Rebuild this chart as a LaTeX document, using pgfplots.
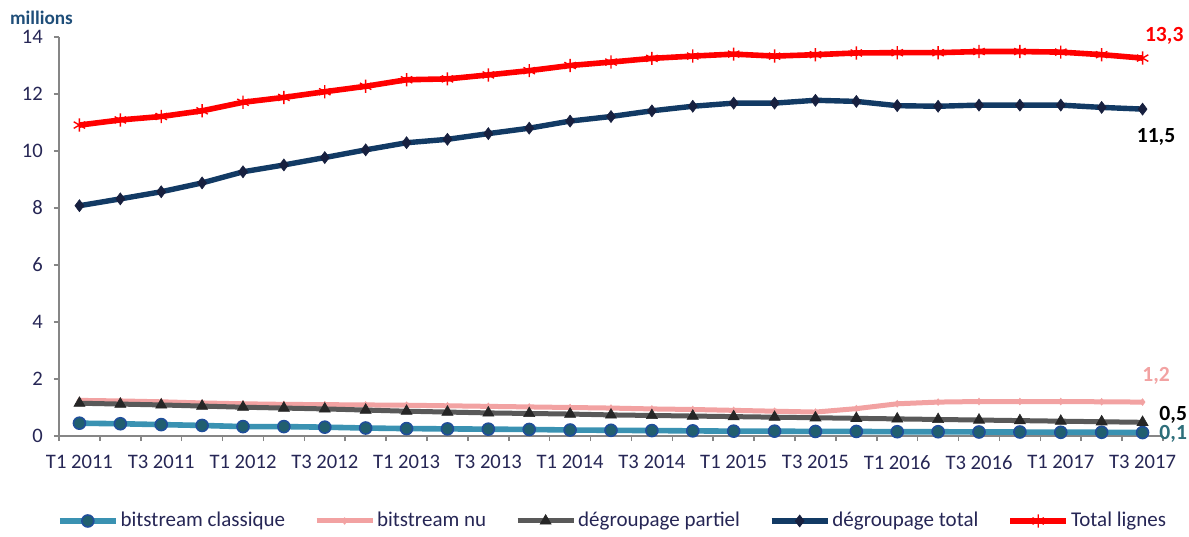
\documentclass[border=0pt]{standalone}
\usepackage{pgfplots}
\usepackage{pgfplotstable}
\pgfplotsset{compat=1.18}
\usepackage{fontspec}
\setmainfont{Carlito}
\definecolor{axisgray}{HTML}{868686}
\definecolor{ticknavy}{HTML}{262655}
\definecolor{millblue}{HTML}{1F4E79}
\definecolor{cRed}{HTML}{FF0000}
\definecolor{cNavy}{HTML}{123A64}
\definecolor{cNavyMk}{HTML}{17203F}
\definecolor{cPink}{HTML}{F2A2A2}
\definecolor{cGray}{HTML}{595959}
\definecolor{cGrayMk}{HTML}{262626}
\definecolor{cTeal}{HTML}{3A92B2}
\definecolor{cTealMk}{HTML}{215F6F}
\definecolor{cTealEdge}{HTML}{1F4E9A}
\definecolor{cTealLbl}{HTML}{2E6E7A}

\pgfplotstableread{
idx cls nu part tot all
0  0.45 1.25 1.15 8.08  10.91
1  0.43 1.23 1.12 8.32  11.09
2  0.40 1.20 1.09 8.57  11.21
3  0.37 1.16 1.05 8.88  11.41
4  0.33 1.13 1.01 9.27  11.71
5  0.33 1.11 0.98 9.51  11.88
6  0.31 1.10 0.95 9.77  12.08
7  0.28 1.09 0.91 10.04 12.27
8  0.26 1.08 0.87 10.29 12.50
9  0.25 1.06 0.84 10.41 12.53
10 0.24 1.04 0.81 10.61 12.67
11 0.23 1.02 0.79 10.80 12.82
12 0.21 1.00 0.77 11.05 13.00
13 0.20 0.98 0.74 11.21 13.12
14 0.19 0.95 0.72 11.41 13.25
15 0.18 0.93 0.70 11.57 13.33
16 0.17 0.90 0.68 11.68 13.40
17 0.17 0.87 0.66 11.68 13.33
18 0.16 0.84 0.64 11.78 13.38
19 0.16 0.96 0.62 11.74 13.44
20 0.15 1.13 0.60 11.59 13.45
21 0.15 1.19 0.58 11.57 13.45
22 0.14 1.21 0.56 11.61 13.49
23 0.14 1.21 0.54 11.61 13.49
24 0.13 1.21 0.52 11.61 13.47
25 0.13 1.20 0.50 11.53 13.38
26 0.12 1.19 0.48 11.47 13.26
}\datatable

\begin{document}
\begin{tikzpicture}
\useasboundingbox (-29.5pt,-50pt) rectangle (565pt,218pt);
\begin{axis}[
  scale only axis, width=552pt, height=199.5pt,
  at={(0,0)}, anchor=south west,
  xmin=-0.5, xmax=26.5, ymin=0, ymax=14,
  clip=false,
  axis x line=bottom, axis y line=left,
  axis line style={-, draw=axisgray, line width=0.8pt},
  xtick={0,2,...,26},
  xticklabels={T1 2011,T3 2011,T1 2012,T3 2012,T1 2013,T3 2013,T1 2014,T3 2014,T1 2015,T3 2015,T1 2016,T3 2016,T1 2017,T3 2017},
  minor xtick={-0.5,0.5,...,26.5},
  major x tick style={draw=none},
  ytick={0,2,...,14},
  tick align=outside,
  tick style={draw=axisgray, line width=0.8pt},
  major tick length=2.6pt, minor tick length=2.6pt,
  /pgf/number format/assume math mode=true,
  ticklabel style={font=\fontsize{10.3}{12}\selectfont, text=ticknavy},
  xticklabel style={yshift=-3.5pt},
  yticklabel style={xshift=-2pt},
  legend columns=5,
  legend style={at={(0.5014,-0.213)}, anchor=center, draw=none, fill=none,
    font=\fontsize{10.5}{12}\selectfont, text=ticknavy,
    inner sep=0pt,
    nodes={inner xsep=1pt},
    /tikz/every even column/.append style={column sep=13.5pt}},
  legend image code/.code={\draw[mark repeat=2,mark phase=2,#1] plot coordinates {(0pt,0pt) (14pt,0pt) (28pt,0pt)};},
]
\addplot[cTeal, line width=2.8pt, mark=*, mark size=3pt,
  mark options={fill=cTealMk, draw=cTealEdge, line width=0.8pt}]
  table[x=idx, y=cls] {\datatable};
\addlegendentry{bitstream classique}
\addplot[cPink, line width=2.5pt, mark=diamond*, mark size=1.6pt,
  mark options={fill=cPink, draw=cPink, line width=0.4pt}]
  table[x=idx, y=nu] {\datatable};
\addlegendentry{bitstream nu}
\addplot[cGray, line width=2.5pt, mark=triangle*, mark size=3.2pt,
  mark options={fill=cGrayMk, draw=cGrayMk, line width=0.3pt}]
  table[x=idx, y=part] {\datatable};
\addlegendentry{dégroupage partiel}
\addplot[cNavy, line width=2.7pt, mark=diamond*, mark size=3pt,
  mark options={fill=cNavyMk, draw=cNavyMk, line width=0.3pt}]
  table[x=idx, y=tot] {\datatable};
\addlegendentry{dégroupage total}
\addplot[cRed, line width=2.8pt, mark=asterisk, mark size=3.3pt,
  mark options={draw=cRed, line width=0.7pt}]
  table[x=idx, y=all] {\datatable};
\addlegendentry{Total lignes}

\node[font=\fontsize{10.8}{12}\selectfont\bfseries, text=cRed] at (axis cs:26.53,14.04) {13,3};
\node[font=\fontsize{10.8}{12}\selectfont\bfseries, text=black] at (axis cs:26.33,10.49) {11,5};
\node[font=\fontsize{10.8}{12}\selectfont\bfseries, text=cPink] at (axis cs:26.33,2.1) {1,2};
\node[font=\fontsize{10.8}{12}\selectfont\bfseries, text=black] at (axis cs:26.75,0.74) {0,5};
\node[font=\fontsize{10.8}{12}\selectfont\bfseries, text=cTealLbl] at (axis cs:26.75,0.08) {0,1};
\node[font=\fontsize{9.6}{11}\selectfont\bfseries, text=millblue] at (axis cs:-0.93,14.67) {millions};
\end{axis}
\end{tikzpicture}
\end{document}
